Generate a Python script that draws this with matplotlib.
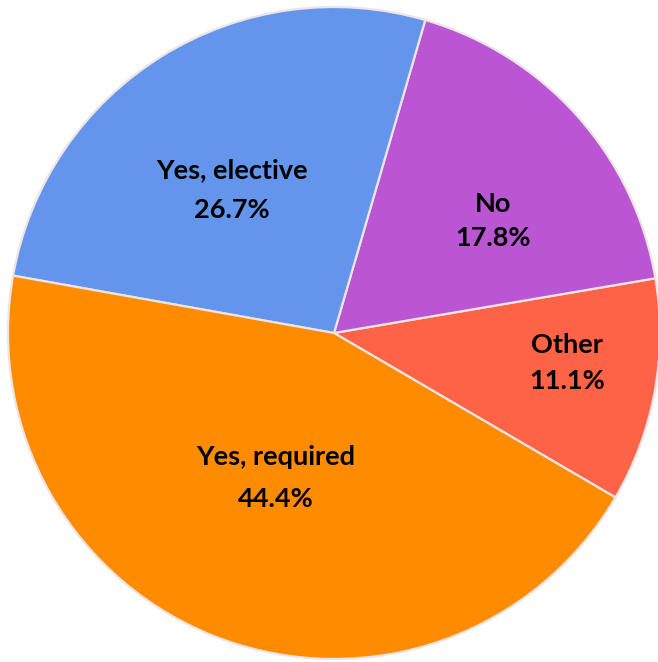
import numpy as np
import matplotlib
matplotlib.use("Agg")
import matplotlib.pyplot as plt

# slice data, counterclockwise from the Other slice
labels = ["Other", "No", "Yes, elective", "Yes, required"]
shares = [11.1, 17.8, 26.7, 44.4]
colors = ["#FF6347", "#BA55D3", "#6495ED", "#FF8C00"]

# label placement: radius (fraction of pie), angle nudge from slice middle,
# and half the gap between the two baselines
label_radius = [0.724, 0.583, 0.519, 0.502]
label_nudge = [1.0, -8.5, 5.3, -0.6]
label_gap = [0.055, 0.052, 0.061, 0.064]

fig = plt.figure(figsize=(6.58, 6.62), dpi=100)
ax = fig.add_axes([0, 0, 1, 1])

wedges, _ = ax.pie(shares, colors=colors, startangle=-30.3, counterclock=True,
                   wedgeprops=dict(edgecolor="#EDE4E4", linewidth=1.6))

for w, lab, val, r, dn, g in zip(wedges, labels, shares, label_radius,
                                 label_nudge, label_gap):
    ang = np.deg2rad((w.theta1 + w.theta2) / 2 + dn)
    x, y = r * np.cos(ang), r * np.sin(ang)
    ax.text(x, y + g, lab, ha="center", va="baseline", fontsize=19.5,
            fontweight="bold", family="Lato")
    ax.text(x, y - g, f"{val:.1f}%", ha="center", va="baseline", fontsize=19.5,
            fontweight="bold", family="Lato")

ax.set_xlim(-334 / 326, 324 / 326)
ax.set_ylim(-329 / 326, 333 / 326)
ax.set_aspect("equal")
ax.axis("off")

fig.savefig("out.png", dpi=100)
